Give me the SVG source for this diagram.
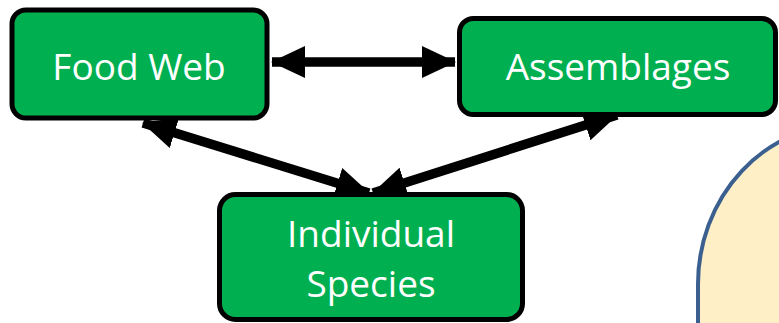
<svg xmlns="http://www.w3.org/2000/svg" width="779" height="323" viewBox="0 0 779 323">
<style>
.box{fill:#00B050;stroke:#000;stroke-width:5}
.lbl{fill:#fff;font-family:"Open Sans",sans-serif;font-size:37px;text-anchor:middle}
.con{stroke:#000;stroke-width:9.5;fill:none}
</style>
<defs>
<marker id="ah" markerUnits="userSpaceOnUse" markerWidth="36" markerHeight="32" refX="33" refY="16" orient="auto-start-reverse">
<path d="M0,0 L34,16 L0,32 Z" fill="#000"/>
</marker>
</defs>
<rect x="698" y="124" width="300" height="400" rx="160" fill="#FFEFC6" stroke="#3B6090" stroke-width="4"/>
<g id="connectors">
<line class="con" x1="272" y1="62" x2="455" y2="62" marker-start="url(#ah)" marker-end="url(#ah)"/>
<line class="con" x1="143" y1="123" x2="369" y2="193" marker-start="url(#ah)" marker-end="url(#ah)"/>
<line class="con" x1="617" y1="115" x2="373" y2="193" marker-start="url(#ah)" marker-end="url(#ah)"/>
</g>
<g id="food-web">
<rect class="box" x="12" y="10" width="255" height="108" rx="14"/>
<text class="lbl" x="139" y="80">Food Web</text>
</g>
<g id="assemblages">
<rect class="box" x="459.5" y="18.5" width="316" height="96" rx="14"/>
<text class="lbl" x="618" y="80">Assemblages</text>
</g>
<g id="individual-species">
<rect class="box" x="219.5" y="194.5" width="303" height="125" rx="16"/>
<text class="lbl" x="371" y="247">Individual</text>
<text class="lbl" x="371" y="297">Species</text>
</g>
</svg>
